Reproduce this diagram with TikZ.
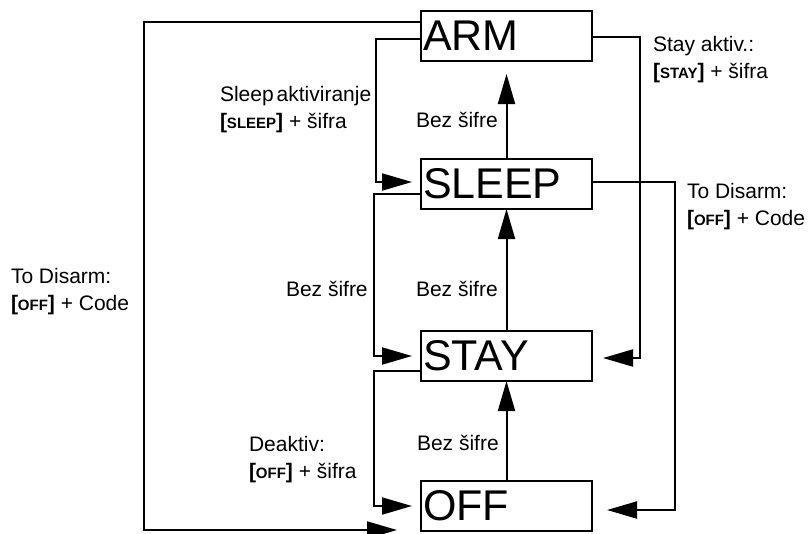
\documentclass[tikz,border=0pt]{standalone}
\usepackage{fontspec}
\setmainfont{Liberation Sans}
\usetikzlibrary{arrows.meta, positioning}

\newcommand{\keyname}[1]{\textbf{[}{\bfseries\fontsize{15}{15}\selectfont #1}\textbf{]}}

\begin{document}
\begin{tikzpicture}[x=1pt, y=-1pt, line width=2pt, >={Triangle[length=30pt, width=17pt]},
    state/.style={draw, minimum width=171pt, minimum height=50pt, text width=167pt,
      align=left, inner sep=1pt, outer sep=0pt, font=\fontsize{43}{43}\selectfont},
    lbl/.style={anchor=base west, align=left, inner sep=0pt, font=\fontsize{21}{26.5}\selectfont}]
    \useasboundingbox (0,0) rectangle (810,533);

    \node[state] (ARM) at (506.5,36) {ARM};
    \node[state, below=98pt of ARM] (SLEEP) {SLEEP};
    \node[state, below=122pt of SLEEP] (STAY) {STAY};
    \node[state, below=100pt of STAY] (OFF) {OFF};

    \draw[->] (OFF) -- (STAY);
    \draw[->] (STAY) -- (SLEEP);
    \draw[->, shorten >=13pt] (SLEEP) -- (ARM);

    \draw[->] ([yshift=14pt]ARM.west) -- ++(-277,0) |- ([xshift=-24pt, yshift=-24pt]OFF.west);
    \draw[->] ([yshift=-3pt]ARM.west) -- ++(-45,0) |- ([xshift=-9pt, yshift=2pt]SLEEP.west);
    \draw[->] ([yshift=-10pt]SLEEP.west) -- ++(-47,0) |- ([xshift=-9pt]STAY.west);
    \draw[->] ([yshift=-15pt]STAY.west) -- ++(-47,0) |- ([xshift=-9pt]OFF.west);
    \draw[->] ([yshift=-1pt]ARM.east) -- ++(48,0) |- ([xshift=11pt, yshift=-2pt]STAY.east);
    \draw[->] ([yshift=2pt]SLEEP.east) -- ++(83,0) |- ([xshift=15pt, yshift=-4pt]OFF.east);

    \node[lbl] (sleepon) at (219,128) {Sleep\hspace{3pt}aktiviranje\\\keyname{SLEEP} + šifra};
    \node[lbl] (nocodeA) at (415,127) {Bez šifre};
    \node[lbl] (stayon) at (652,78) {Stay aktiv.:\\\keyname{STAY} + šifra};
    \node[lbl] (disarmR) at (686,225) {To Disarm:\\\keyname{OFF} + Code};
    \node[lbl] (disarmL) at (10,310) {To Disarm:\\\keyname{OFF} + Code};
    \node[lbl] (nocodeB) at (285,296) {Bez šifre};
    \node[lbl] (nocodeC) at (415,296) {Bez šifre};
    \node[lbl] (offon) at (248,478) {Deaktiv:\\\keyname{OFF} + šifra};
    \node[lbl] (nocodeD) at (416,450) {Bez šifre};
\end{tikzpicture}
\end{document}
